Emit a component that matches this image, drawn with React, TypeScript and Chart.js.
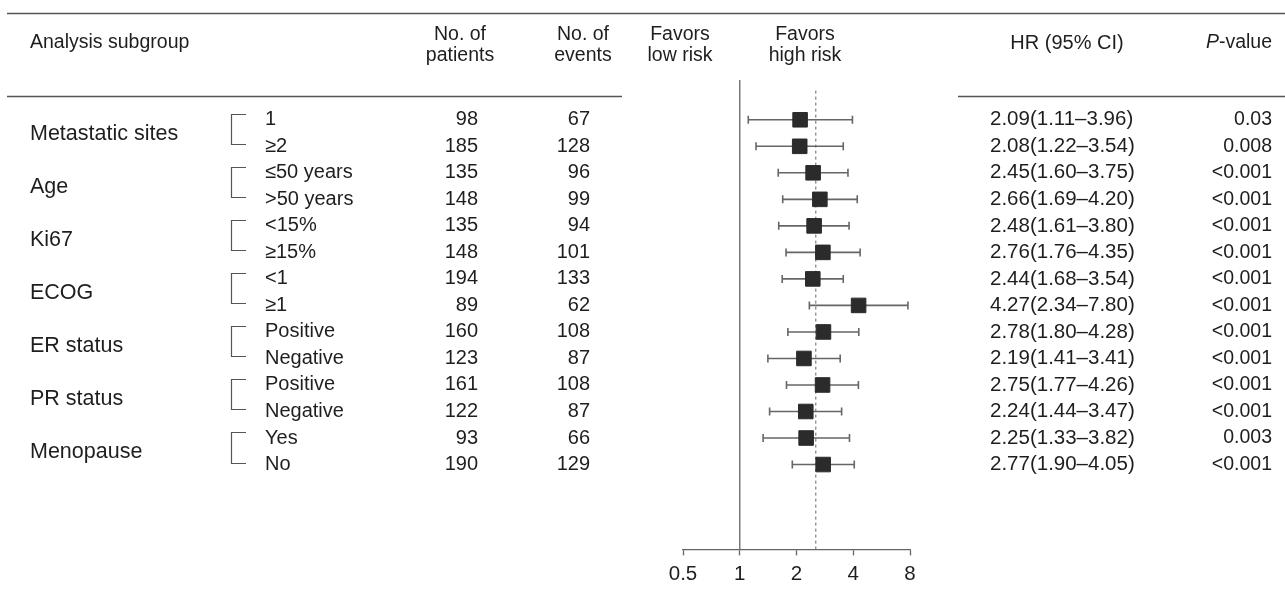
import React, { useEffect, useRef } from "react";
import { Chart, registerables } from "chart.js";

Chart.register(...registerables);

const groups = ["Metastatic sites", "Age", "Ki67", "ECOG", "ER status", "PR status", "Menopause"];
const subgroups = ["1", "≥2", "≤50 years", ">50 years", "<15%", "≥15%", "<1", "≥1", "Positive", "Negative", "Positive", "Negative", "Yes", "No"];
const patients = [98, 185, 135, 148, 135, 148, 194, 89, 160, 123, 161, 122, 93, 190];
const events = [67, 128, 96, 99, 94, 101, 133, 62, 108, 87, 108, 87, 66, 129];
const hr = [2.09, 2.08, 2.45, 2.66, 2.48, 2.76, 2.44, 4.27, 2.78, 2.19, 2.75, 2.24, 2.25, 2.77];
const lower = [1.11, 1.22, 1.6, 1.69, 1.61, 1.76, 1.68, 2.34, 1.8, 1.41, 1.77, 1.44, 1.33, 1.9];
const upper = [3.96, 3.54, 3.75, 4.2, 3.8, 4.35, 3.54, 7.8, 4.28, 3.41, 4.26, 3.47, 3.82, 4.05];
const pValues = ["0.03", "0.008", "<0.001", "<0.001", "<0.001", "<0.001", "<0.001", "<0.001", "<0.001", "<0.001", "<0.001", "<0.001", "0.003", "<0.001"];
const xTicks = [0.5, 1, 2, 4, 8];
const overallHR = 2.53;

const FONT = "'Liberation Sans', Arial, Helvetica, sans-serif";
const TEXT = "#1e1e1e";
const LINE = "#666";
const f = (s: number, italic = false) => `${italic ? "italic " : ""}${s}px ${FONT}`;

const tablePlugin = {
  id: "forestTable",
  afterDraw(chart: any) {
    const ctx = chart.ctx as CanvasRenderingContext2D;
    const ys = chart.scales.y;
    ctx.save();
    ctx.strokeStyle = "#555";
    ctx.lineWidth = 1.5;
    const hline = (x1: number, x2: number, y: number) => {
      ctx.beginPath();
      ctx.moveTo(x1, y);
      ctx.lineTo(x2, y);
      ctx.stroke();
    };
    hline(7, 1285, 13.5);
    hline(7, 622, 96.5);
    hline(958, 1285, 96.5);

    ctx.fillStyle = TEXT;
    ctx.textBaseline = "middle";
    ctx.font = f(19.5);
    ctx.textAlign = "left";
    ctx.fillText("Analysis subgroup", 30, 43);
    ctx.textAlign = "center";
    ctx.fillText("No. of", 460, 35);
    ctx.fillText("patients", 460, 56);
    ctx.fillText("No. of", 583, 35);
    ctx.fillText("events", 583, 56);
    ctx.fillText("Favors", 680, 35);
    ctx.fillText("low risk", 680, 56);
    ctx.fillText("Favors", 805, 35);
    ctx.fillText("high risk", 805, 56);
    ctx.font = f(20);
    ctx.fillText("HR (95% CI)", 1067, 43);
    ctx.font = f(19.5);
    ctx.textAlign = "right";
    const vw = ctx.measureText("-value").width;
    ctx.fillText("-value", 1272, 43);
    ctx.font = f(19.5, true);
    ctx.fillText("P", 1272 - vw, 43);

    subgroups.forEach((s, i) => {
      const y = ys.getPixelForValue(i);
      ctx.font = f(20);
      ctx.textAlign = "left";
      ctx.fillText(s, 265, y);
      ctx.textAlign = "right";
      ctx.fillText(String(patients[i]), 478, y);
      ctx.fillText(String(events[i]), 590, y);
      ctx.font = f(20.5);
      ctx.textAlign = "left";
      ctx.fillText(`${hr[i].toFixed(2)}(${lower[i].toFixed(2)}–${upper[i].toFixed(2)})`, 990, y);
      ctx.font = f(19.5);
      ctx.textAlign = "right";
      ctx.fillText(pValues[i], 1272, y);
    });

    ctx.strokeStyle = "#555";
    ctx.lineWidth = 1.2;
    ctx.font = f(21.5);
    groups.forEach((g, k) => {
      const y1 = ys.getPixelForValue(2 * k);
      const y2 = ys.getPixelForValue(2 * k + 1);
      ctx.textAlign = "left";
      ctx.fillText(g, 30, (y1 + y2) / 2 + 1);
      const top = Math.round(y1 - 6) + 0.5;
      const bot = Math.round(y2 - 2) + 0.5;
      ctx.beginPath();
      ctx.moveTo(246, top);
      ctx.lineTo(231.5, top);
      ctx.lineTo(231.5, bot);
      ctx.lineTo(246, bot);
      ctx.stroke();
    });
    ctx.restore();
  },
};

export default function App() {
  const ref = useRef<HTMLCanvasElement>(null);
  useEffect(() => {
    if (!ref.current) return;
    const yMin = -1.5;
    const yMax = 16.2;
    const squares = hr.map((v, i) => ({ x: v, y: i }));
    const ciSets = hr.map((_, i) => ({
      type: "line" as const,
      data: [
        { x: lower[i], y: i },
        { x: upper[i], y: i },
      ],
      showLine: true,
      borderColor: LINE,
      borderWidth: 1.6,
      pointStyle: "line" as const,
      rotation: 90,
      pointRadius: 4,
      pointBorderColor: LINE,
      pointBorderWidth: 1.6,
      order: 2,
    }));
    const chart = new Chart(ref.current, {
      type: "scatter",
      data: {
        datasets: [
          {
            data: squares,
            pointStyle: "rect",
            pointRadius: 10.3,
            backgroundColor: "#2b2b2b",
            borderColor: "#2b2b2b",
            borderWidth: 1,
            order: 1,
          } as any,
          ...ciSets,
          {
            type: "line",
            data: [
              { x: overallHR, y: -1.1 },
              { x: overallHR, y: yMax },
            ],
            showLine: true,
            borderColor: "#888",
            borderWidth: 1.3,
            borderDash: [3, 3],
            pointRadius: 0,
            order: 3,
          } as any,
          {
            type: "line",
            data: [
              { x: 1, y: yMin },
              { x: 1, y: yMax },
            ],
            showLine: true,
            borderColor: "#777",
            borderWidth: 1.5,
            pointRadius: 0,
            order: 3,
          } as any,
        ],
      },
      options: {
        responsive: false,
        animation: false,
        layout: { padding: { left: 683, right: 375, top: 80, bottom: 6 } },
        plugins: { legend: { display: false }, tooltip: { enabled: false } },
        scales: {
          x: {
            type: "logarithmic",
            min: 0.5,
            max: 8,
            afterBuildTicks: (scale: any) => {
              scale.ticks = xTicks.map((v) => ({ value: v }));
            },
            ticks: {
              autoSkip: false,
              maxRotation: 0,
              padding: 7,
              color: TEXT,
              font: { family: FONT, size: 20.5 },
              callback: (v: any) => String(v),
            },
            grid: {
              drawOnChartArea: false,
              drawTicks: true,
              tickLength: 6,
              tickColor: "#666",
              tickWidth: 1.3,
            },
            border: { display: true, color: "#666", width: 1.3 },
          },
          y: {
            type: "linear",
            min: yMin,
            max: yMax,
            reverse: true,
            display: false,
          },
        },
      },
      plugins: [tablePlugin],
    });
    return () => chart.destroy();
  }, []);
  return (
    <div style={{ position: "absolute", left: 0, top: 0, width: 1285, height: 600, background: "#fff" }}>
      <canvas ref={ref} width={1285} height={600} style={{ display: "block" }} />
    </div>
  );
}
